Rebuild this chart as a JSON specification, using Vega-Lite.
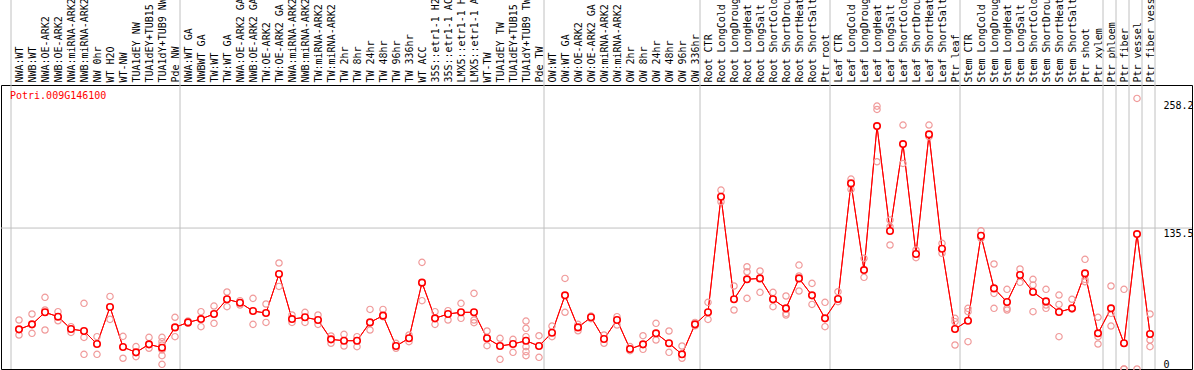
{
"$schema": "https://vega.github.io/schema/vega-lite/v6.json",
"width": 1191, "height": 284,
"autosize": {"type": "none"},
"padding": {"left": 1, "top": 85, "right": 2, "bottom": 1},
"background": "white",
"config": {"view": {"stroke": "black", "strokeWidth": 1}, "font": "DejaVu Sans Mono"},
"datasets": {
"means": [
{"cat":"NWA:WT","v":38.1},{"cat":"NWB:WT","v":42.9},{"cat":"NWA:OE-ARK2","v":54.5},{"cat":"NWB:OE-ARK2","v":50.3},{"cat":"NWA:miRNA-ARK2","v":38.4},{"cat":"NWB:miRNA-ARK2","v":36.5},{"cat":"NW 0hr","v":24.0},{"cat":"WT H2O","v":59.6},{"cat":"WT-NW","v":21.1},{"cat":"TUA1dEY NW","v":16.0},{"cat":"TUA1dEY+TUB15 NW","v":23.7},{"cat":"TUA1dY+TUB9 NW","v":20.5},{"cat":"Pde NW","v":40.0},
{"cat":"NWA:WT GA","v":44.8},{"cat":"NWBWT GA","v":48.0},{"cat":"TW:WT","v":52.9},{"cat":"TW:WT GA","v":67.0},{"cat":"NWA:OE-ARK2 GA","v":63.7},{"cat":"NWB:OE-ARK2 GA","v":55.7},{"cat":"TW:OE-ARK2","v":53.8},{"cat":"TW:OE-ARK2 GA","v":91.3},{"cat":"NWA:miRNA-ARK2 GA","v":48.0},{"cat":"NWB:miRNA-ARK2 GA","v":49.7},{"cat":"TW:miRNA-ARK2","v":47.1},{"cat":"TW:miRNA-ARK2 GA","v":28.5},{"cat":"TW 2hr","v":27.2},{"cat":"TW 8hr","v":27.2},{"cat":"TW 24hr","v":44.8},{"cat":"TW 48hr","v":51.3},{"cat":"TW 96hr","v":22.1},{"cat":"TW 336hr","v":29.5},{"cat":"WT ACC","v":83.0},{"cat":"35S::etr1-1 H2O","v":48.7},{"cat":"35S::etr1-1 ACC","v":52.9},{"cat":"LMX5::etr1-1 H2O","v":54.5},{"cat":"LMX5::etr1-1 ACC","v":54.5},{"cat":"WT-TW","v":29.5},{"cat":"TUA1dEY TW","v":22.1},{"cat":"TUA1dEY+TUB15 TW","v":24.0},{"cat":"TUA1dY+TUB9 TW","v":27.2},{"cat":"Pde TW","v":22.1},
{"cat":"OW:WT","v":34.9},{"cat":"OW:WT GA","v":70.8},{"cat":"OW:OE-ARK2","v":40.0},{"cat":"OW:OE-ARK2 GA","v":49.7},{"cat":"OW:miRNA-ARK2","v":28.8},{"cat":"OW:miRNA-ARK2 GA","v":47.1},{"cat":"OW 2hr","v":19.2},{"cat":"OW 8hr","v":23.7},{"cat":"OW 24hr","v":34.3},{"cat":"OW 48hr","v":24.7},{"cat":"OW 96hr","v":14.1},{"cat":"OW 336hr","v":42.9},
{"cat":"Root CTR","v":54.5},{"cat":"Root LongCold","v":165.6},{"cat":"Root LongDrought","v":67.0},{"cat":"Root LongHeat","v":86.2},{"cat":"Root LongSalt","v":87.1},{"cat":"Root ShortCold","v":67.0},{"cat":"Root ShortDrought","v":58.3},{"cat":"Root ShortHeat","v":87.1},{"cat":"Root ShortSalt","v":70.8},{"cat":"Ptr root","v":48.7},
{"cat":"Leaf CTR","v":67.3},{"cat":"Leaf LongCold","v":178.4},{"cat":"Leaf LongDrought","v":95.1},{"cat":"Leaf LongHeat","v":233.5},{"cat":"Leaf LongSalt","v":132.6},{"cat":"Leaf ShortCold","v":216.2},{"cat":"Leaf ShortDrought","v":110.5},{"cat":"Leaf ShortHeat","v":225.5},{"cat":"Leaf ShortSalt","v":115.6},{"cat":"Ptr leaf","v":38.4},
{"cat":"Stem CTR","v":46.4},{"cat":"Stem LongCold","v":128.1},{"cat":"Stem LongDrought","v":77.5},{"cat":"Stem LongHeat","v":64.4},{"cat":"Stem LongSalt","v":90.3},{"cat":"Stem ShortCold","v":74.0},{"cat":"Stem ShortDrought","v":65.0},{"cat":"Stem ShortHeat","v":54.8},{"cat":"Stem ShortSalt","v":58.3},{"cat":"Ptr shoot","v":91.9},{"cat":"Ptr xylem","v":34.3},{"cat":"Ptr phloem","v":58.3},{"cat":"Ptr fiber","v":24.7},{"cat":"Ptr vessel","v":129.7},{"cat":"Ptr fiber vessel","v":33.6}
],
"reps": [
{"cat":"NWA:WT","v":47.1},{"cat":"NWA:WT","v":32.7},
{"cat":"NWB:WT","v":52.9},{"cat":"NWB:WT","v":34.3},
{"cat":"NWA:OE-ARK2","v":68.9},{"cat":"NWA:OE-ARK2","v":56.7},{"cat":"NWA:OE-ARK2","v":37.5},
{"cat":"NWB:OE-ARK2","v":55.1},{"cat":"NWB:OE-ARK2","v":46.4},
{"cat":"NWA:miRNA-ARK2","v":40.7},{"cat":"NWA:miRNA-ARK2","v":35.2},
{"cat":"NWB:miRNA-ARK2","v":63.1},{"cat":"NWB:miRNA-ARK2","v":30.4},{"cat":"NWB:miRNA-ARK2","v":14.1},
{"cat":"NW 0hr","v":31.1},{"cat":"NW 0hr","v":14.1},
{"cat":"WT H2O","v":69.8},{"cat":"WT H2O","v":47.7},
{"cat":"WT-NW","v":31.4},{"cat":"WT-NW","v":10.3},
{"cat":"TUA1dEY NW","v":21.5},{"cat":"TUA1dEY NW","v":11.9},
{"cat":"TUA1dEY+TUB15 NW","v":30.4},{"cat":"TUA1dEY+TUB15 NW","v":19.9},
{"cat":"TUA1dY+TUB9 NW","v":30.4},{"cat":"TUA1dY+TUB9 NW","v":26.3},{"cat":"TUA1dY+TUB9 NW","v":23.1},{"cat":"TUA1dY+TUB9 NW","v":18.3},{"cat":"TUA1dY+TUB9 NW","v":12.8},{"cat":"TUA1dY+TUB9 NW","v":4.5},
{"cat":"Pde NW","v":49.7},{"cat":"Pde NW","v":31.1},
{"cat":"NWA:WT GA","v":46.1},{"cat":"NWA:WT GA","v":43.9},
{"cat":"NWBWT GA","v":55.1},{"cat":"NWBWT GA","v":40.7},
{"cat":"TW:WT","v":60.5},{"cat":"TW:WT","v":43.9},
{"cat":"TW:WT GA","v":74.0},{"cat":"TW:WT GA","v":59.9},
{"cat":"NWA:OE-ARK2 GA","v":65.7},{"cat":"NWA:OE-ARK2 GA","v":61.5},
{"cat":"NWB:OE-ARK2 GA","v":67.9},{"cat":"NWB:OE-ARK2 GA","v":42.9},
{"cat":"TW:OE-ARK2","v":62.5},{"cat":"TW:OE-ARK2","v":44.8},
{"cat":"TW:OE-ARK2 GA","v":101.9},{"cat":"TW:OE-ARK2 GA","v":79.4},
{"cat":"NWA:miRNA-ARK2 GA","v":51.9},{"cat":"NWA:miRNA-ARK2 GA","v":44.8},
{"cat":"NWB:miRNA-ARK2 GA","v":54.5},{"cat":"NWB:miRNA-ARK2 GA","v":44.8},
{"cat":"TW:miRNA-ARK2","v":51.9},{"cat":"TW:miRNA-ARK2","v":42.9},
{"cat":"TW:miRNA-ARK2 GA","v":31.7},{"cat":"TW:miRNA-ARK2 GA","v":24.7},
{"cat":"TW 2hr","v":33.3},{"cat":"TW 2hr","v":22.1},
{"cat":"TW 8hr","v":31.1},{"cat":"TW 8hr","v":21.5},
{"cat":"TW 24hr","v":57.3},{"cat":"TW 24hr","v":37.5},
{"cat":"TW 48hr","v":57.3},{"cat":"TW 48hr","v":50.3},
{"cat":"TW 96hr","v":24.7},{"cat":"TW 96hr","v":19.9},
{"cat":"TW 336hr","v":32.7},{"cat":"TW 336hr","v":26.3},
{"cat":"WT ACC","v":102.5},{"cat":"WT ACC","v":65.7},
{"cat":"35S::etr1-1 H2O","v":55.1},{"cat":"35S::etr1-1 H2O","v":42.9},
{"cat":"35S::etr1-1 ACC","v":56.1},{"cat":"35S::etr1-1 ACC","v":47.1},
{"cat":"LMX5::etr1-1 H2O","v":63.1},{"cat":"LMX5::etr1-1 H2O","v":48.7},
{"cat":"LMX5::etr1-1 ACC","v":72.7},{"cat":"LMX5::etr1-1 ACC","v":47.1},{"cat":"LMX5::etr1-1 ACC","v":44.5},
{"cat":"WT-TW","v":36.5},{"cat":"WT-TW","v":22.4},
{"cat":"TUA1dEY TW","v":29.5},{"cat":"TUA1dEY TW","v":9.3},
{"cat":"TUA1dEY+TUB15 TW","v":28.5},{"cat":"TUA1dEY+TUB15 TW","v":16.0},
{"cat":"TUA1dY+TUB9 TW","v":46.1},{"cat":"TUA1dY+TUB9 TW","v":39.1},{"cat":"TUA1dY+TUB9 TW","v":31.1},{"cat":"TUA1dY+TUB9 TW","v":21.5},{"cat":"TUA1dY+TUB9 TW","v":16.7},{"cat":"TUA1dY+TUB9 TW","v":12.8},
{"cat":"Pde TW","v":32.0},{"cat":"Pde TW","v":11.2},
{"cat":"OW:WT","v":41.3},{"cat":"OW:WT","v":31.1},
{"cat":"OW:WT GA","v":87.1},{"cat":"OW:WT GA","v":54.5},
{"cat":"OW:OE-ARK2","v":42.9},{"cat":"OW:OE-ARK2","v":36.8},
{"cat":"OW:OE-ARK2 GA","v":50.9},{"cat":"OW:OE-ARK2 GA","v":48.4},
{"cat":"OW:miRNA-ARK2","v":32.7},{"cat":"OW:miRNA-ARK2","v":24.7},
{"cat":"OW:miRNA-ARK2 GA","v":50.3},{"cat":"OW:miRNA-ARK2 GA","v":42.3},
{"cat":"OW 2hr","v":21.5},{"cat":"OW 2hr","v":17.6},
{"cat":"OW 8hr","v":32.0},{"cat":"OW 8hr","v":18.9},
{"cat":"OW 24hr","v":43.9},{"cat":"OW 24hr","v":27.9},
{"cat":"OW 48hr","v":36.5},{"cat":"OW 48hr","v":16.0},
{"cat":"OW 96hr","v":22.1},{"cat":"OW 96hr","v":10.3},
{"cat":"OW 336hr","v":44.8},{"cat":"OW 336hr","v":41.6},
{"cat":"Root CTR","v":64.1},{"cat":"Root CTR","v":47.7},
{"cat":"Root LongCold","v":172.0},{"cat":"Root LongCold","v":160.8},
{"cat":"Root LongDrought","v":79.8},{"cat":"Root LongDrought","v":56.7},
{"cat":"Root LongHeat","v":98.3},{"cat":"Root LongHeat","v":93.5},{"cat":"Root LongHeat","v":67.9},
{"cat":"Root LongSalt","v":94.2},{"cat":"Root LongSalt","v":73.7},
{"cat":"Root ShortCold","v":73.7},{"cat":"Root ShortCold","v":59.9},
{"cat":"Root ShortDrought","v":70.2},{"cat":"Root ShortDrought","v":53.5},{"cat":"Root ShortDrought","v":51.9},
{"cat":"Root ShortHeat","v":99.9},{"cat":"Root ShortHeat","v":89.4},{"cat":"Root ShortHeat","v":75.0},
{"cat":"Root ShortSalt","v":82.3},{"cat":"Root ShortSalt","v":62.1},
{"cat":"Ptr root","v":64.1},{"cat":"Ptr root","v":40.7},
{"cat":"Leaf CTR","v":74.3},{"cat":"Leaf CTR","v":64.7},
{"cat":"Leaf LongCold","v":182.6},{"cat":"Leaf LongCold","v":172.7},
{"cat":"Leaf LongDrought","v":106.4},{"cat":"Leaf LongDrought","v":88.1},
{"cat":"Leaf LongHeat","v":252.7},{"cat":"Leaf LongHeat","v":249.5},{"cat":"Leaf LongHeat","v":199.2},
{"cat":"Leaf LongSalt","v":143.2},{"cat":"Leaf LongSalt","v":136.8},{"cat":"Leaf LongSalt","v":119.2},
{"cat":"Leaf ShortCold","v":234.5},{"cat":"Leaf ShortCold","v":197.6},
{"cat":"Leaf ShortDrought","v":114.4},{"cat":"Leaf ShortDrought","v":107.0},
{"cat":"Leaf ShortHeat","v":234.5},{"cat":"Leaf ShortHeat","v":223.3},
{"cat":"Leaf ShortSalt","v":120.8},{"cat":"Leaf ShortSalt","v":111.2},
{"cat":"Ptr leaf","v":48.7},{"cat":"Ptr leaf","v":45.5},{"cat":"Ptr leaf","v":23.1},
{"cat":"Stem CTR","v":58.3},{"cat":"Stem CTR","v":55.1},{"cat":"Stem CTR","v":26.3},
{"cat":"Stem LongCold","v":132.9},{"cat":"Stem LongCold","v":125.6},
{"cat":"Stem LongDrought","v":100.9},{"cat":"Stem LongDrought","v":72.7},{"cat":"Stem LongDrought","v":58.3},
{"cat":"Stem LongHeat","v":76.6},{"cat":"Stem LongHeat","v":58.3},{"cat":"Stem LongHeat","v":56.7},
{"cat":"Stem LongSalt","v":96.1},{"cat":"Stem LongSalt","v":83.3},
{"cat":"Stem ShortCold","v":86.2},{"cat":"Stem ShortCold","v":80.7},{"cat":"Stem ShortCold","v":55.1},
{"cat":"Stem ShortDrought","v":76.6},{"cat":"Stem ShortDrought","v":61.5},{"cat":"Stem ShortDrought","v":58.3},
{"cat":"Stem ShortHeat","v":71.1},{"cat":"Stem ShortHeat","v":62.1},{"cat":"Stem ShortHeat","v":31.1},
{"cat":"Stem ShortSalt","v":67.0},{"cat":"Stem ShortSalt","v":57.7},
{"cat":"Ptr shoot","v":105.4},{"cat":"Ptr shoot","v":86.2},{"cat":"Ptr shoot","v":83.9},
{"cat":"Ptr xylem","v":49.7},{"cat":"Ptr xylem","v":31.1},{"cat":"Ptr xylem","v":24.0},
{"cat":"Ptr phloem","v":79.8},{"cat":"Ptr phloem","v":53.5},{"cat":"Ptr phloem","v":41.3},
{"cat":"Ptr fiber","v":76.6},{"cat":"Ptr fiber","v":0},{"cat":"Ptr fiber","v":0},
{"cat":"Ptr vessel","v":260.1},{"cat":"Ptr vessel","v":0},
{"cat":"Ptr fiber vessel","v":52.9},{"cat":"Ptr fiber vessel","v":27.9},{"cat":"Ptr fiber vessel","v":21.5}
],
"seps": [
{"cat":"Pde NW"},{"cat":"Pde TW"},{"cat":"OW 336hr"},{"cat":"Ptr root"},{"cat":"Ptr leaf"},{"cat":"Ptr xylem"},{"cat":"Ptr phloem"},{"cat":"Ptr fiber"},{"cat":"Ptr vessel"},{"cat":"Ptr fiber vessel"}
],
"firstsep": [{"cat":"NWA:WT"}],
"label": [{"cat":"NWA:WT","text":"Potri.009G146100"}]
},
"layer": [
{"data": {"name": "means"},
 "mark": {"type": "line", "color": "#ff0000", "strokeWidth": 1},
 "encoding": {
  "x": {"field": "cat", "type": "nominal", "sort": null,
    "scale": {"type": "point", "padding": 0, "range": [18, 1149], "domain": ["NWA:WT","NWB:WT","NWA:OE-ARK2","NWB:OE-ARK2","NWA:miRNA-ARK2","NWB:miRNA-ARK2","NW 0hr","WT H2O","WT-NW","TUA1dEY NW","TUA1dEY+TUB15 NW","TUA1dY+TUB9 NW","Pde NW","NWA:WT GA","NWBWT GA","TW:WT","TW:WT GA","NWA:OE-ARK2 GA","NWB:OE-ARK2 GA","TW:OE-ARK2","TW:OE-ARK2 GA","NWA:miRNA-ARK2 GA","NWB:miRNA-ARK2 GA","TW:miRNA-ARK2","TW:miRNA-ARK2 GA","TW 2hr","TW 8hr","TW 24hr","TW 48hr","TW 96hr","TW 336hr","WT ACC","35S::etr1-1 H2O","35S::etr1-1 ACC","LMX5::etr1-1 H2O","LMX5::etr1-1 ACC","WT-TW","TUA1dEY TW","TUA1dEY+TUB15 TW","TUA1dY+TUB9 TW","Pde TW","OW:WT","OW:WT GA","OW:OE-ARK2","OW:OE-ARK2 GA","OW:miRNA-ARK2","OW:miRNA-ARK2 GA","OW 2hr","OW 8hr","OW 24hr","OW 48hr","OW 96hr","OW 336hr","Root CTR","Root LongCold","Root LongDrought","Root LongHeat","Root LongSalt","Root ShortCold","Root ShortDrought","Root ShortHeat","Root ShortSalt","Ptr root","Leaf CTR","Leaf LongCold","Leaf LongDrought","Leaf LongHeat","Leaf LongSalt","Leaf ShortCold","Leaf ShortDrought","Leaf ShortHeat","Leaf ShortSalt","Ptr leaf","Stem CTR","Stem LongCold","Stem LongDrought","Stem LongHeat","Stem LongSalt","Stem ShortCold","Stem ShortDrought","Stem ShortHeat","Stem ShortSalt","Ptr shoot","Ptr xylem","Ptr phloem","Ptr fiber","Ptr vessel","Ptr fiber vessel"]},
    "axis": {"orient": "top", "title": null, "domain": false, "ticks": false, "grid": false, "labelAngle": 270, "labelAlign": "left", "labelBaseline": "middle", "labelPadding": 3, "labelFont": "DejaVu Sans Mono", "labelFontSize": 10, "labelColor": "black", "labelOverlap": false, "labelBound": false, "labelLimit": 0}},
  "y": {"field": "v", "type": "quantitative",
    "scale": {"domain": [0, 273], "nice": false, "zero": true},
    "axis": {"orient": "right", "title": null, "values": [0, 135.5, 258.2], "format": ".1~f", "domain": false, "ticks": false, "tickSize": 0, "grid": false, "offset": -29, "labelPadding": 0, "labelAlign": "left", "labelBaseline": {"condition": {"test": "datum.value === 0", "value": "bottom"}, "value": "top"}, "labelFont": "DejaVu Sans Mono", "labelFontSize": 10, "labelColor": "black", "labelFlush": false, "labelOverlap": false, "labelBound": false}}
 }},
{"data": {"name": "seps"},
 "mark": {"type": "rule", "color": "#c0c0c0", "strokeWidth": 1, "xOffset": 5},
 "encoding": {"x": {"field": "cat", "type": "nominal"}, "y": {"datum": 0, "type": "quantitative"}, "y2": {"datum": 360}}},
{"data": {"name": "firstsep"},
 "mark": {"type": "rule", "color": "#c0c0c0", "strokeWidth": 1, "xOffset": -8},
 "encoding": {"x": {"field": "cat", "type": "nominal"}, "y": {"datum": 0, "type": "quantitative"}, "y2": {"datum": 360}}},
{"data": {"values": [{"g": 135.5}]},
 "mark": {"type": "rule", "color": "#c0c0c0", "strokeWidth": 1},
 "encoding": {"y": {"field": "g", "type": "quantitative"}}},
{"data": {"name": "means"},
 "mark": {"type": "line", "color": "#ff0000", "strokeWidth": 1},
 "encoding": {"x": {"field": "cat", "type": "nominal", "sort": null}, "y": {"field": "v", "type": "quantitative"}}},
{"data": {"name": "reps"},
 "mark": {"type": "point", "shape": "circle", "filled": false, "stroke": "#f09a9a", "strokeWidth": 1.2, "size": 40, "opacity": 1},
 "encoding": {"x": {"field": "cat", "type": "nominal"}, "y": {"field": "v", "type": "quantitative"}}},
{"data": {"name": "means"},
 "mark": {"type": "point", "shape": "circle", "filled": true, "fill": "white", "stroke": "#ff0000", "strokeWidth": 1.6, "size": 42, "opacity": 1, "fillOpacity": 1},
 "encoding": {"x": {"field": "cat", "type": "nominal"}, "y": {"field": "v", "type": "quantitative"}}},
{"data": {"name": "label"},
 "mark": {"type": "text", "align": "left", "baseline": "top", "dx": -9, "dy": 6, "color": "#ff0000", "font": "DejaVu Sans Mono", "fontSize": 10},
 "encoding": {"x": {"field": "cat", "type": "nominal"}, "y": {"datum": 273, "type": "quantitative"}, "text": {"field": "text"}}}
]
}
